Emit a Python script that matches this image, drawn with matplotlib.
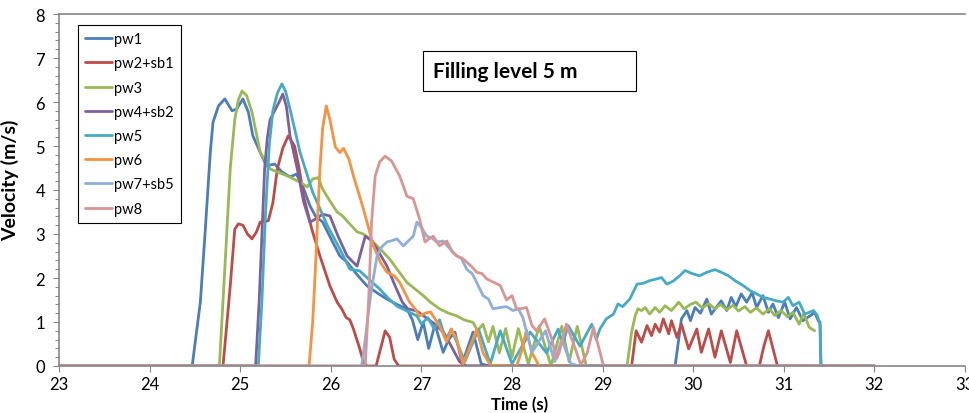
import matplotlib
matplotlib.use("Agg")
import matplotlib.pyplot as plt
from matplotlib.patches import Rectangle
from matplotlib.ticker import MultipleLocator

plt.rcParams['font.family'] = ['Lato', 'DejaVu Sans']

# ---- data (time in s, velocity in m/s) ----
labels = ['pw1', 'pw2+sb1', 'pw3', 'pw4+sb2', 'pw5', 'pw6', 'pw7+sb5', 'pw8']
colors = ['#4A7EBB', '#BE4B48', '#98B954', '#7D60A0',
          '#46AAC5', '#F69240', '#8EAEDB', '#D99592']

pw1_t = [23.0, 24.47, 24.56, 24.61, 24.67, 24.7, 24.76, 24.83, 24.91, 24.96,
         25.03, 25.09, 25.14, 25.22, 25.29, 25.38, 25.46, 25.55, 25.62, 25.69,
         25.77, 25.83, 25.91, 26.02, 26.1, 26.18, 26.3, 26.4, 26.52, 26.62,
         26.73, 26.84, 26.9, 26.96, 27.02, 27.08, 27.15, 27.24, 27.3, 27.37,
         27.45, 27.57, 27.66, 27.75, 29.8, 29.82, 29.87, 29.93, 29.97, 30.02,
         30.08, 30.15, 30.2, 30.26, 30.31, 30.37, 30.42, 30.47, 30.53, 30.59,
         30.65, 30.7, 30.77, 30.83, 30.88, 30.94, 31.01, 31.07, 31.14, 31.21,
         31.29, 31.34, 31.38, 31.4, 31.41, 32.0]
pw1_v = [0, 0, 1.45, 2.95, 4.86, 5.54, 5.91, 6.07, 5.8, 5.84,
         6.07, 5.77, 5.23, 4.86, 4.55, 4.59, 4.41, 4.3, 4.36, 4.09,
         3.64, 3.41, 3.27, 2.82, 2.5, 2.36, 2.05, 1.82, 1.65, 1.52,
         1.4, 1.3, 1.05, 0.6, 1.0, 0.4, 0.95, 0.31, 0.6, 0.77,
         0.05, 0.77, 0.05, 0, 0, 0.3, 1.07, 1.26, 1.03, 1.33,
         1.2, 1.52, 1.18, 1.35, 1.48, 1.26, 1.56, 1.35, 1.64, 1.45,
         1.67, 1.33, 1.6, 1.22, 1.41, 1.1, 1.45, 1.07, 1.33, 1.03,
         1.14, 1.22, 1.03, 1.0, 0, 0]

pw2_t = [23.0, 24.81, 24.85, 24.89, 24.94, 24.98, 25.03, 25.08, 25.13, 25.18,
         25.22, 25.31, 25.36, 25.41, 25.47, 25.53, 25.6, 25.65, 25.7, 25.79,
         25.88, 25.99, 26.07, 26.12, 26.17, 26.21, 26.25, 26.32, 26.36, 26.4,
         26.5, 26.55, 26.6, 26.65, 26.7, 26.75, 29.32, 29.37, 29.43, 29.49,
         29.54, 29.58, 29.63, 29.67, 29.73, 29.76, 29.82, 29.87, 29.95, 30.04,
         30.09, 30.17, 30.24, 30.31, 30.41, 30.48, 30.59, 30.73, 30.78, 30.83,
         30.88, 30.93, 32.0]
pw2_v = [0, 0, 0.9, 1.82, 3.11, 3.23, 3.2, 3.0, 2.89, 3.05,
         3.27, 3.3, 3.7, 4.48, 4.95, 5.23, 5.0, 4.5, 3.86, 3.11,
         2.5, 1.82, 1.45, 1.3, 1.1, 1.05, 0.84, 0.39, 0.09, 0,
         0, 0.4, 0.8, 0.65, 0.15, 0, 0, 0.8, 0.54, 0.92,
         0.69, 0.95, 0.77, 1.07, 0.73, 1.03, 0.65, 0.95, 0.39, 0.84,
         0.31, 0.84, 0.2, 0.8, 0.08, 0.8, 0, 0, 0.45, 0.8,
         0.4, 0, 0]

pw3_t = [23.0, 24.77, 24.83, 24.89, 24.94, 24.98, 25.02, 25.07, 25.13, 25.22,
         25.33, 25.42, 25.52, 25.66, 25.74, 25.8, 25.86, 25.91, 25.99, 26.07,
         26.13, 26.2, 26.29, 26.36, 26.43, 26.55, 26.65, 26.75, 26.84, 26.93,
         27.02, 27.1, 27.2, 27.3, 27.39, 27.47, 27.57, 27.62, 27.68, 27.74,
         27.79, 27.86, 27.93, 28.0, 28.07, 28.18, 28.3, 28.43, 28.55, 28.63,
         28.72, 28.82, 29.27, 29.32, 29.36, 29.39, 29.43, 29.47, 29.52, 29.58,
         29.63, 29.69, 29.76, 29.84, 29.9, 29.97, 30.03, 30.1, 30.17, 30.24,
         30.3, 30.37, 30.44, 30.5, 30.57, 30.63, 30.7, 30.77, 30.84, 30.9,
         30.97, 31.04, 31.1, 31.17, 31.22, 31.28, 31.34]
pw3_v = [0, 0, 2.2, 4.48, 5.6, 6.05, 6.25, 6.15, 5.77, 4.86,
         4.48, 4.4, 4.32, 4.18, 4.07, 4.25, 4.28, 4.02, 3.75, 3.5,
         3.41, 3.25, 3.05, 3.0, 2.89, 2.65, 2.43, 2.15, 1.9, 1.75,
         1.6, 1.45, 1.3, 1.2, 1.14, 1.05, 0.99, 0.8, 0.95, 0.55,
         0.9, 0.3, 0.85, 0.2, 0.85, 0.05, 0.9, 0.0, 0.9, 0.1,
         0.9, 0, 0, 0.77, 1.14, 1.3, 1.26, 1.33, 1.18, 1.33,
         1.22, 1.37, 1.26, 1.45, 1.3, 1.4, 1.45, 1.32, 1.42, 1.3,
         1.4, 1.28, 1.38, 1.25, 1.35, 1.22, 1.32, 1.18, 1.3, 1.15,
         1.26, 1.12, 1.22, 0.95, 1.2, 0.88, 0.8]

pw4_t = [23.0, 25.17, 25.21, 25.25, 25.27, 25.3, 25.33, 25.38, 25.43, 25.47,
         25.51, 25.55, 25.63, 25.7, 25.77, 25.83, 25.91, 25.99, 26.08, 26.18,
         26.29, 26.38, 26.45, 26.51, 26.62, 26.71, 26.79, 26.85, 26.95, 27.05,
         27.15, 27.25, 27.33, 27.42, 27.5, 32.0]
pw4_v = [0, 0, 1.5, 3.5, 4.5, 5.2, 5.6, 5.8, 6.0, 6.18,
         5.9, 5.23, 4.48, 3.73, 3.27, 3.34, 3.45, 3.41, 2.95, 2.5,
         2.27, 2.95, 2.85, 2.66, 2.27, 1.82, 1.45, 1.3, 1.25, 1.1,
         0.95, 0.75, 0.45, 0.1, 0, 0]

pw5_t = [23.0, 25.2, 25.24, 25.28, 25.32, 25.36, 25.41, 25.46, 25.5, 25.55,
         25.66, 25.8, 25.96, 26.1, 26.21, 26.27, 26.32, 26.43, 26.54, 26.63,
         26.73, 26.84, 26.95, 27.0, 27.07, 27.14, 27.2, 27.27, 27.33, 27.48,
         27.63, 27.76, 27.87, 28.0, 28.2, 28.38, 28.51, 28.56, 28.62, 28.75,
         28.88, 28.93, 28.97, 29.04, 29.12, 29.17, 29.22, 29.3, 29.38, 29.45,
         29.52, 29.58, 29.65, 29.71, 29.78, 29.85, 29.91, 29.99, 30.07, 30.15,
         30.24, 30.31, 30.39, 30.46, 30.55, 30.63, 30.7, 30.77, 30.85, 30.92,
         30.99, 31.05, 31.1, 31.17, 31.23, 31.28, 31.33, 31.37, 31.4, 31.41,
         32.0]
pw5_v = [0, 0, 1.5, 3.5, 5.0, 5.8, 6.2, 6.41, 6.25, 5.84,
         4.86, 3.95, 3.2, 2.66, 2.2, 2.18, 2.16, 1.95, 1.75, 1.55,
         1.36, 1.25, 1.14, 0.95, 1.1, 0.85, 1.05, 0.6, 0.84, 0.1,
         0.84, 0.05, 0.8, 0.05, 0.77, 0.3, 0.84, 0.5, 0.92, 0.45,
         0.95, 0.6, 0.84, 1.07, 1.18, 1.41, 1.35, 1.52, 1.86, 1.88,
         1.94, 1.97, 2.01, 1.86, 1.93, 2.05, 2.17, 2.1, 2.05, 2.13,
         2.19, 2.13, 2.05, 1.94, 1.83, 1.71, 1.64, 1.56, 1.52, 1.48,
         1.45, 1.56, 1.37, 1.45, 1.18, 1.22, 1.26, 1.15, 0.92, 0,
         0]

pw6_t = [23.0, 25.76, 25.8, 25.83, 25.86, 25.88, 25.91, 25.95, 25.99, 26.05,
         26.1, 26.14, 26.2, 26.25, 26.36, 26.47, 26.55, 26.62, 26.7, 26.76,
         26.87, 26.93, 26.98, 27.04, 27.1, 27.2, 27.28, 27.33, 27.39, 27.46,
         27.53, 27.61, 27.68, 27.76, 28.05, 28.1, 28.16, 28.22, 28.3, 32.0]
pw6_v = [0, 0, 1.0, 2.2, 3.6, 4.48, 5.4, 5.91, 5.6, 4.98,
         4.85, 4.95, 4.7, 4.32, 3.57, 2.73, 2.35, 2.13, 2.05, 1.9,
         1.45, 1.3, 1.14, 1.2, 1.23, 0.91, 0.55, 0.84, 0.6, 0.05,
         0.4, 0.84, 0.3, 0.02, 0, 0.3, 0.82, 0.3, 0, 0]

pw7_t = [23.0, 26.34, 26.38, 26.42, 26.45, 26.51, 26.56, 26.62, 26.68, 26.73,
         26.8, 26.86, 26.91, 26.95, 27.0, 27.06, 27.12, 27.17, 27.24, 27.3,
         27.39, 27.44, 27.5, 27.56, 27.61, 27.68, 27.74, 27.79, 27.87, 27.94,
         28.01, 28.07, 28.12, 28.17, 28.22, 28.28, 28.37, 28.47, 28.55, 28.65,
         28.75, 32.0]
pw7_v = [0, 0, 0.6, 1.3, 1.75, 2.5, 2.7, 2.82, 2.85, 2.89,
         2.73, 2.85, 2.95, 3.27, 3.15, 2.95, 2.9, 2.82, 2.84, 2.7,
         2.5, 2.45, 2.2, 2.1, 1.9, 1.6, 1.52, 1.3, 1.33, 1.35,
         1.26, 1.3, 1.1, 0.7, 0.31, 0.5, 0.8, 0.1, 0.6, 0.05,
         0, 0]

pw8_t = [23.0, 26.38, 26.42, 26.45, 26.49, 26.54, 26.6, 26.67, 26.76, 26.84,
         26.91, 26.98, 27.04, 27.09, 27.13, 27.2, 27.28, 27.34, 27.39, 27.45,
         27.5, 27.56, 27.61, 27.67, 27.72, 27.8, 27.87, 27.94, 28.0, 28.05,
         28.09, 28.16, 28.22, 28.27, 28.36, 28.44, 28.49, 28.52, 28.6, 28.68,
         28.76, 28.83, 28.9, 28.96, 29.01, 32.0]
pw8_v = [0, 0, 1.6, 3.27, 4.32, 4.64, 4.77, 4.66, 4.32, 3.86,
         3.8, 3.34, 2.82, 2.9, 2.95, 2.73, 2.84, 2.6, 2.5, 2.45,
         2.36, 2.25, 2.13, 2.1, 1.98, 1.9, 1.83, 1.5, 1.6, 1.3,
         1.3, 1.33, 0.92, 0.8, 1.07, 0.61, 0.16, 0.3, 0.95, 0.5,
         0.02, 0.3, 0.88, 0.4, 0, 0]

series_t = [pw1_t, pw2_t, pw3_t, pw4_t, pw5_t, pw6_t, pw7_t, pw8_t]
series_v = [pw1_v, pw2_v, pw3_v, pw4_v, pw5_v, pw6_v, pw7_v, pw8_v]

# ---- figure ----
fig = plt.figure(figsize=(9.7, 4.14), dpi=100)
ax = fig.add_axes([59 / 970, 47 / 414, 906 / 970, 352 / 414])

for t, v, c, lab in zip(series_t, series_v, colors, labels):
    ax.plot(t, v, color=c, linewidth=2.0, label=lab,
            solid_joinstyle='round', solid_capstyle='round')

ax.set_xlim(23, 33)
ax.set_ylim(0, 8)
ax.xaxis.set_major_locator(MultipleLocator(1))
ax.yaxis.set_major_locator(MultipleLocator(1))
ax.yaxis.set_minor_locator(MultipleLocator(0.2))
ax.tick_params(axis='both', which='major', direction='out', length=4,
               width=0.8, color='#868686', labelsize=12, pad=3)
ax.tick_params(axis='y', which='minor', direction='out', length=3,
               width=0.8, color='#868686')
ax.tick_params(axis='y', which='major', pad=6)

for side in ['left', 'top', 'bottom']:
    ax.spines[side].set_color('#868686')
    ax.spines[side].set_linewidth(1.2)
ax.spines['right'].set_visible(False)

ax.set_xlabel('Time (s)', fontsize=12, fontweight='bold')
ax.xaxis.set_label_coords(0.508, -0.085)
ax.set_ylabel('Velocity (m/s)', fontsize=14, fontweight='bold')
ax.yaxis.set_label_coords(-0.044, 0.53)

leg = ax.legend(loc='upper left', bbox_to_anchor=(0.021, 0.969),
                fontsize=10.5, frameon=True, fancybox=False, framealpha=1,
                edgecolor='black', borderaxespad=0, handlelength=1.8,
                handletextpad=0.15, labelspacing=0.7, borderpad=0.5)
leg.get_frame().set_linewidth(0.8)

# title box
ax.add_patch(Rectangle((0.4018, 0.781), 0.235, 0.1136, transform=ax.transAxes,
                       facecolor='white', edgecolor='black', linewidth=0.8,
                       zorder=5))
ax.text(0.413, 0.838, 'Filling level 5 m', transform=ax.transAxes,
        fontsize=15, fontweight='bold', va='center', ha='left', zorder=6)

fig.savefig('out.png', dpi=100)
